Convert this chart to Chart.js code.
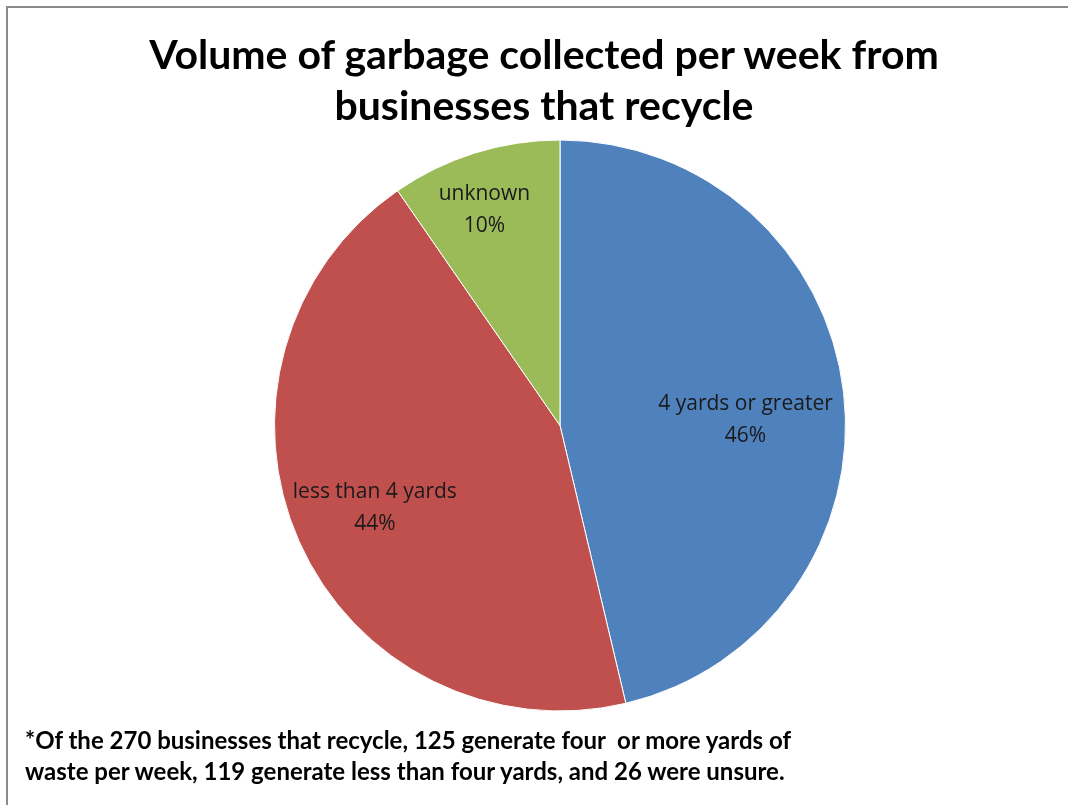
<!DOCTYPE html>
<html>
<head>
<meta charset="utf-8">
<script src="https://cdn.jsdelivr.net/npm/chart.js@4"></script>
<style>
    html, body { margin: 0; padding: 0; background: #fff; }
    #wrap { position: relative; width: 1068px; height: 805px; overflow: hidden; }
    #frame {
        position: absolute; left: 6px; top: 6px; width: 1100px; height: 900px;
        border-top: 2px solid #8a8a8a; border-left: 2px solid #8a8a8a;
    }
    #title {
        position: absolute; left: 0; top: 28px; width: 1088px; text-align: center;
        font-family: 'Lato', sans-serif; font-weight: bold;
        font-size: 41px; line-height: 51px; color: #000;
    }
    #note {
        position: absolute; left: 25px; top: 724px;
        font-family: 'Lato', sans-serif; font-weight: bold;
        font-size: 24px; line-height: 31px; color: #000; white-space: pre;
    }
    #chartBox { position: absolute; left: 0; top: 0; width: 1068px; height: 805px; }
</style>
</head>
<body>
<div id="wrap">
    <div id="frame"></div>
    <div id="chartBox"><canvas id="pieChart"></canvas></div>
    <div id="title">Volume of garbage collected per week from<br>businesses that recycle</div>
    <div id="note">*Of the 270 businesses that recycle, 125 generate four  or more yards of
waste per week, 119 generate less than four yards, and 26 were unsure.</div>
</div>
<script>
// chart data
const categories = ['4 yards or greater', 'less than 4 yards', 'unknown'];
const businessCounts = [125, 119, 26];
const sliceColors = ['#4F81BD', '#C0504D', '#9BBB59'];

// draws "name / pct%" inside each slice, like Excel's data labels
const sliceLabels = {
    id: 'sliceLabels',
    afterDatasetsDraw(chart, args, opts) {
        const ctx = chart.ctx;
        const meta = chart.getDatasetMeta(0);
        const values = chart.data.datasets[0].data;
        const total = values.reduce((a, b) => a + b, 0);
        ctx.save();
        ctx.font = opts.font;
        ctx.fillStyle = opts.color;
        ctx.textAlign = 'center';
        ctx.textBaseline = 'middle';
        meta.data.forEach((arc, i) => {
            const p = arc.getProps(['x', 'y', 'startAngle', 'endAngle', 'outerRadius'], true);
            // Excel doesn't sit labels exactly on the bisector, so allow a small nudge
            const mid = (p.startAngle + p.endAngle) / 2 + opts.nudge[i] * Math.PI / 180;
            const r = p.outerRadius * opts.radius[i];
            const x = p.x + Math.cos(mid) * r;
            const y = p.y + Math.sin(mid) * r;
            const pct = Math.round(values[i] / total * 100) + '%';
            ctx.fillText(chart.data.labels[i], x, y - opts.lineGap / 2);
            ctx.fillText(pct, x, y + opts.lineGap / 2);
        });
        ctx.restore();
    }
};

const ctx = document.getElementById('pieChart').getContext('2d');
new Chart(ctx, {
    type: 'pie',
    data: {
        labels: categories,
        datasets: [{
            data: businessCounts,
            backgroundColor: sliceColors,
            borderColor: '#ffffff',
            borderWidth: 1
        }]
    },
    options: {
        responsive: true,
        maintainAspectRatio: false,
        animation: false,
        layout: { padding: { left: 274, right: 222, top: 139, bottom: 93 } },
        plugins: {
            legend: { display: false },
            tooltip: { enabled: false },
            sliceLabels: {
                font: '21px "Open Sans", sans-serif',
                color: '#1a1a1a',
                lineGap: 32,
                radius: [0.65, 0.71, 0.80],
                nudge: [5, 0, -2]
            }
        }
    },
    plugins: [sliceLabels]
});
</script>
</body>
</html>
